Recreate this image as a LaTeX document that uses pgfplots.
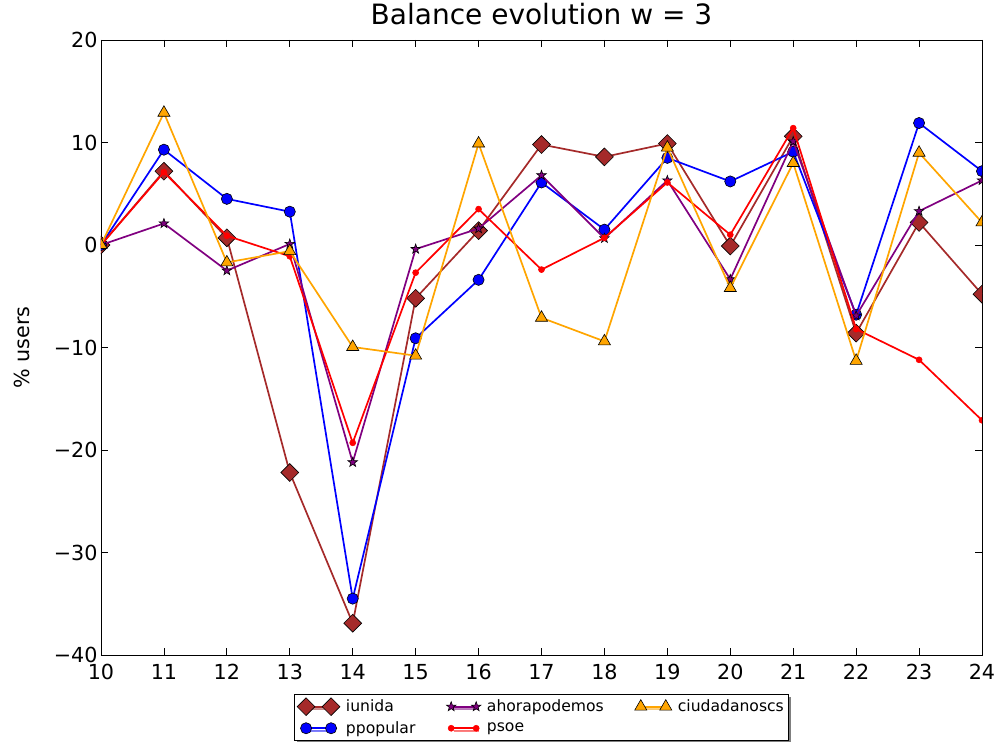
\documentclass[border=0pt]{standalone}
\usepackage{fontspec}
\setmainfont{DejaVu Sans}
\usepackage{pgfplots}
\pgfplotsset{compat=1.18}
\usetikzlibrary{shadows}
\definecolor{mbrown}{RGB}{165,42,42}
\definecolor{mblue}{RGB}{0,0,255}
\definecolor{mpurple}{RGB}{128,0,128}
\definecolor{mred}{RGB}{255,0,0}
\definecolor{morange}{RGB}{255,165,0}
\pgfdeclareplotmark{fstar}{%
  \pgfpathmoveto{\pgfqpointpolar{90}{\pgfplotmarksize}}%
  \pgfpathlineto{\pgfqpointpolar{126}{0.4\pgfplotmarksize}}%
  \pgfpathlineto{\pgfqpointpolar{162}{\pgfplotmarksize}}%
  \pgfpathlineto{\pgfqpointpolar{198}{0.4\pgfplotmarksize}}%
  \pgfpathlineto{\pgfqpointpolar{234}{\pgfplotmarksize}}%
  \pgfpathlineto{\pgfqpointpolar{270}{0.4\pgfplotmarksize}}%
  \pgfpathlineto{\pgfqpointpolar{306}{\pgfplotmarksize}}%
  \pgfpathlineto{\pgfqpointpolar{342}{0.4\pgfplotmarksize}}%
  \pgfpathlineto{\pgfqpointpolar{18}{\pgfplotmarksize}}%
  \pgfpathlineto{\pgfqpointpolar{54}{0.4\pgfplotmarksize}}%
  \pgfpathclose
  \pgfusepathqfillstroke}
\pgfplotsset{
  iustyle/.style={color=mbrown, line width=1.7pt, mark=square*, mark size=6.3pt, mark options={rotate=45, fill=mbrown, draw=black, line width=0.6pt}},
  ppstyle/.style={color=mblue, line width=1.7pt, mark=*, mark size=5.6pt, mark options={fill=mblue, draw=black, line width=0.6pt}},
  postyle/.style={color=mpurple, line width=1.7pt, mark=fstar, mark size=5pt, mark options={fill=mpurple, draw=black, line width=0.6pt}},
  psstyle/.style={color=mred, line width=1.7pt, mark=*, mark size=3pt, mark options={fill=mred, draw=mred, line width=0.6pt}},
  csstyle/.style={color=morange, line width=1.7pt, mark=triangle*, mark size=7pt, mark options={fill=morange, draw=black, line width=0.6pt}},
}
\begin{document}
\begin{tikzpicture}
\path[use as bounding box] (-101pt,-89pt) rectangle (896pt,655pt);
\begin{axis}[
  at={(0pt,0pt)}, anchor=south west,
  width=881pt, height=615pt, scale only axis,
  xmin=10, xmax=24, ymin=-40, ymax=20,
  xtick={10,11,...,24},
  ytick={-40,-30,-20,-10,0,10,20},
  yticklabels={−40,−30,−20,−10,0,10,20},
  tick align=inside, major tick length=7pt,
  tick style={black, line width=0.8pt},
  axis line style={line width=0.9pt},
  ticklabel style={font=\fontsize{20.7}{24}\selectfont},
  xticklabel style={yshift=-6pt},
  /pgf/number format/assume math mode=true,
  title={Balance evolution w = 3},
  title style={font=\fontsize{28}{34}\selectfont, at={(0.5,1)}, anchor=base, yshift=9pt},
  ylabel={\% users},
  ylabel style={font=\fontsize{20.7}{24}\selectfont, at={(axis description cs:-0.0897,0.5)}, anchor=center},
  clip marker paths=true,
  legend columns=3,
  legend style={at={(0.5,-0.064)}, anchor=north, font=\fontsize{15.6}{18}\selectfont,
    draw=black, line width=0.8pt, fill=white,
    drop shadow={shadow xshift=2.5pt, shadow yshift=-2.5pt, opacity=0.5, fill=black},
    /tikz/every odd column/.append style={column sep=4pt},
    /tikz/every even column/.append style={column sep=29pt}, row sep=4pt,
    inner xsep=3pt, inner ysep=3pt},
  legend cell align=left,
  legend image code/.code={\draw[#1] plot coordinates {(0pt,0pt) (25pt,0pt)};},
]
\addlegendimage{iustyle}\addlegendentry{iunida}
\addlegendimage{postyle}\addlegendentry{ahorapodemos}
\addlegendimage{csstyle}\addlegendentry{ciudadanoscs}
\addlegendimage{ppstyle}\addlegendentry{ppopular}
\addlegendimage{psstyle}\addlegendentry{psoe}
% iunida
\addplot[iustyle, forget plot] coordinates {
(10,0) (11,7.2) (12,0.7) (13,-22.2) (14,-36.9) (15,-5.2) (16,1.4) (17,9.8)
(18,8.6) (19,9.9) (20,-0.1) (21,10.6) (22,-8.6) (23,2.2) (24,-4.8)};
% ppopular
\addplot[ppstyle, forget plot] coordinates {
(10,0) (11,9.3) (12,4.5) (13,3.25) (14,-34.5) (15,-9.1) (16,-3.4) (17,6.1)
(18,1.5) (19,8.5) (20,6.2) (21,9.1) (22,-6.8) (23,11.9) (24,7.2)};
% ahorapodemos
\addplot[postyle, forget plot] coordinates {
(10,0) (11,2.1) (12,-2.5) (13,0.1) (14,-21.2) (15,-0.4) (16,1.6) (17,6.8)
(18,0.65) (19,6.3) (20,-3.35) (21,10.1) (22,-6.9) (23,3.3) (24,6.3)};
% psoe
\addplot[psstyle, forget plot] coordinates {
(10,0) (11,7.1) (12,0.9) (13,-1.1) (14,-19.3) (15,-2.7) (16,3.5) (17,-2.4)
(18,0.7) (19,6.1) (20,1.0) (21,11.4) (22,-8.2) (23,-11.2) (24,-17.1)};
% ciudadanoscs
\addplot[csstyle, forget plot] coordinates {
(10,0) (11,12.9) (12,-1.7) (13,-0.6) (14,-9.95) (15,-10.8) (16,9.9) (17,-7.1)
(18,-9.4) (19,9.5) (20,-4.2) (21,8.0) (22,-11.3) (23,9.0) (24,2.2)};
\end{axis}
\end{tikzpicture}
\end{document}
